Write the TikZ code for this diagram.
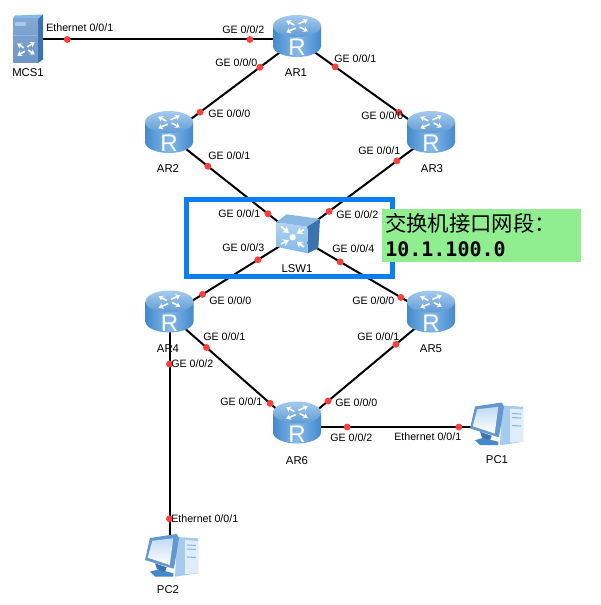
\documentclass[tikz,border=0pt]{standalone}
\usepackage{fontspec}
\setmainfont{Liberation Sans}
\newfontfamily\cjkfont{Noto Sans CJK SC}
\newfontfamily\addrfont{DejaVu Sans Mono}
\usetikzlibrary{arrows.meta}
\definecolor{huaweiblue}{HTML}{4389CC}
\definecolor{huaweimid}{HTML}{84B9EA}
\definecolor{huaweitop}{HTML}{A5CBEE}
\definecolor{huaweidark}{HTML}{3A73B0}
\definecolor{serverblue}{HTML}{6C97C8}
\definecolor{screenframe}{HTML}{6497CE}
\definecolor{framebox}{HTML}{0A7FF5}
\definecolor{notegreen}{HTML}{90EE90}
\definecolor{portred}{HTML}{F8413C}
\tikzset{
  link/.style={black,line width=1.5pt},
  portdot/.style={circle,fill=portred,draw=none,inner sep=0pt,minimum size=5.2pt},
  portlabel/.style={font=\fontsize{8}{9}\selectfont,anchor=west,inner sep=0pt},
  devlabel/.style={font=\fontsize{8.5}{10}\selectfont,anchor=center,inner sep=0pt},
  site/.style={inner sep=0pt,minimum size=0pt},
  fourarrows/.pic={
    \draw[white,line width=1.2pt,-{Stealth[length=3.5pt,width=4.5pt]}] (-2,-1) -- (-8,-5);
    \draw[white,line width=1.2pt,-{Stealth[length=3.5pt,width=4.5pt]}] (1,-2) -- (8,-6);
    \draw[white,line width=1.2pt,-{Stealth[length=3.5pt,width=4.5pt]}] (2,1) -- (8,5);
    \draw[white,line width=1.2pt,-{Stealth[length=3.5pt,width=4.5pt]}] (-1,2) -- (-8,6);
  },
  router/.pic={
    \path[left color=huaweiblue,right color=huaweiblue,middle color=huaweimid]
      (-24,-13.5) -- (-24,6.5) arc[start angle=180,end angle=0,x radius=24,y radius=11] -- (24,-13.5) -- cycle;
    \path[top color=huaweitop,bottom color=huaweiblue!85!white] (0,-13.5) ellipse[x radius=24,y radius=11];
    \pic[xscale=1.35,yscale=1.05] at (0,-13.5) {fourarrows};
    \node[text=white,inner sep=0pt,font=\fontsize{18}{18}\selectfont] (R) at (0,8) {R};
  },
  switchbox/.pic={
    \path[fill=huaweitop!70!huaweiblue] (-20,-13.7) -- (-9.3,-21.7) -- (24,-17) -- (11.7,-9.3) -- cycle;
    \path[fill=huaweidark] (11.7,-9.3) -- (24,-17) -- (22.3,12.3) -- (11.7,17.3) -- cycle;
    \path[top color=huaweitop!85!white,bottom color=huaweimid] (-20,-13.7) -- (11.7,-9.3) -- (11.7,17.3) -- (-20,10.7) -- cycle;
    \fill[white] (-3.3,1.3) circle (3.2);
    \draw[white,line width=1.4pt,-{Stealth[length=4.5pt,width=5.5pt]}] (-15,-9.5) -- (-7,-3);
    \draw[white,line width=1.4pt,-{Stealth[length=4.5pt,width=5.5pt]}] (8,-6.5) -- (0.5,-2.5);
    \draw[white,line width=1.4pt,-{Stealth[length=4.5pt,width=5.5pt]}] (8,11) -- (0.5,5.5);
    \draw[white,line width=1.4pt,-{Stealth[length=4.5pt,width=5.5pt]}] (-15,8) -- (-7,4);
  },
  serverbox/.pic={
    \path[fill=huaweimid] (-16,-20.5) -- (-14,-24) -- (14,-25) -- (9,-20.5) -- cycle;
    \path[fill=huaweidark] (9,-20.5) -- (14,-25) -- (14,20) -- (9,23.5) -- cycle;
    \path[top color=serverblue!85!white,bottom color=serverblue] (-16,-20.5) rectangle (9,23.5);
    \path[fill=huaweitop] (-14,-17) rectangle (-3,-13.5);
    \draw[huaweitop!60!serverblue,line width=.6pt] (-16,-4) -- (9,-4);
    \pic[scale=1.1] at (-3,9.5) {fourarrows};
  },
  pcbox/.pic={
    \path[fill=huaweitop] (6,-21) -- (27,-19.7) -- (27,15.3) -- (4,18.7) -- cycle;
    \path[fill=huaweitop!35!white] (14,-18) -- (27,-17) -- (27,15.3) -- (14,16) -- cycle;
    \draw[huaweimid,line width=.8pt] (16,-13) -- (25,-12.5);
    \draw[huaweimid,line width=.8pt] (16,-9) -- (25,-8.5);
    \draw[huaweimid,line width=.8pt] (16,-1) -- (25,-.5);
    \path[fill=huaweiblue] (-21,13.7) -- (-12.7,11.3) -- (2.3,15.3) -- (2.3,18.7) -- (-16,18.7) -- cycle;
    \path[fill=huaweidark] (-16,5.3) -- (-4.3,9.3) -- (-6,13.7) -- (-14,11) -- cycle;
    \path[fill=screenframe] (-21,-20) -- (5.7,-24) -- (8,-20) -- (3,10.3) -- (1.3,10.3) -- (-26,2) -- cycle;
    \path[top color=huaweitop!70!white,bottom color=white] (-18.7,-17.3) -- (2.3,-19.7) -- (-1.3,7) -- (-23.3,-.3) -- cycle;
  },
}
\begin{document}
\begin{tikzpicture}[x=0.75pt,y=-0.75pt]
\useasboundingbox (0,0) rectangle (600,605);
\fill[white] (0,0) rectangle (600,605);

\node[site] (MCS1) at (29,39.5) {};
\node[site] (AR1) at (297,39.5) {};
\node[site] (AR2) at (169,135.5) {};
\node[site] (AR3) at (431,135.5) {};
\node[site] (LSW1) at (296,236) {};
\node[site] (AR4) at (169.5,315) {};
\node[site] (AR5) at (431,315) {};
\node[site] (AR6) at (297,427) {};
\node[site] (PC1) at (497,427) {};
\node[site] (PC2) at (169.5,562) {};

% links, two port dots on each
\draw[link] (MCS1) -- node[portdot,pos=.142] (mcsA) {} node[portdot,pos=.825] (arA) {} (AR1);
\draw[link] (AR1) -- node[portdot,pos=.289] (d1) {} node[portdot,pos=.758] (d2) {} (AR2);
\draw[link] (AR1) -- node[portdot,pos=.284] (d3) {} node[portdot,pos=.761] (d4) {} (AR3);
\draw[link] (AR2) -- node[portdot,pos=.305] (d5) {} node[portdot,pos=.78] (d6) {} (LSW1);
\draw[link] (AR3) -- node[portdot,pos=.252] (d7) {} node[portdot,pos=.756] (d8) {} (LSW1);
\draw[link] (AR4) -- node[portdot,pos=.26] (d9) {} node[portdot,pos=.70] (d10) {} (LSW1);
\draw[link] (AR5) -- node[portdot,pos=.222] (d11) {} node[portdot,pos=.674] (d12) {} (LSW1);
\draw[link] (AR4) -- node[portdot,pos=.289] (d13) {} node[portdot,pos=.79] (d14) {} (AR6);
\draw[link] (AR5) -- node[portdot,pos=.261] (d15) {} node[portdot,pos=.769] (d16) {} (AR6);
\draw[link] (AR6) -- node[portdot,pos=.25] (d17) {} node[portdot,pos=.81] (d18) {} (PC1);
\draw[link] (AR4) -- node[portdot,pos=.198] (d19) {} node[portdot,pos=.826] (d20) {} (PC2);

\pic (mcsicon) at (MCS1) {serverbox};
\pic (aricona) at (AR1) {router};
\pic (ariconb) at (AR2) {router};
\pic (ariconc) at (AR3) {router};
\pic (aricond) at (AR4) {router};
\pic (aricone) at (AR5) {router};
\pic (ariconf) at (297,426) {router};
\pic (lswicon) at (LSW1) {switchbox};
\pic (pcicona) at (496,426.5) {pcbox};
\pic (piconb) at (171,558) {pcbox};

\node[devlabel] (nMCS1) at (28,73) {MCS1};
\node[devlabel] (nAR1) at (296,73) {AR1};
\node[devlabel] (nAR2) at (168,169) {AR2};
\node[devlabel] (nAR3) at (432,169) {AR3};
\node[devlabel] (nLSW1) at (297,269) {LSW1};
\node[devlabel] (nAR4) at (168,349) {AR4};
\node[devlabel] (nAR5) at (431,349) {AR5};
\node[devlabel] (nAR6) at (297,461) {AR6};
\node[devlabel] (nPC1) at (497,460) {PC1};
\node[devlabel] (nPC2) at (168,590) {PC2};

\node[portlabel] (l1) at (46,28) {Ethernet 0/0/1};
\node[portlabel] (l2) at (222,30) {GE 0/0/2};
\node[portlabel] (l3) at (215,63) {GE 0/0/0};
\node[portlabel] (l4) at (334,59) {GE 0/0/1};
\node[portlabel] (l5) at (208,114) {GE 0/0/0};
\node[portlabel] (l6) at (361,116) {GE 0/0/0};
\node[portlabel] (l7) at (208,156) {GE 0/0/1};
\node[portlabel] (l8) at (358,151) {GE 0/0/1};
\node[portlabel] (l9) at (218,214) {GE 0/0/1};
\node[portlabel] (l10) at (336,215) {GE 0/0/2};
\node[portlabel] (l11) at (222,248) {GE 0/0/3};
\node[portlabel] (l12) at (332,249) {GE 0/0/4};
\node[portlabel] (l13) at (209,301) {GE 0/0/0};
\node[portlabel] (l14) at (352,301) {GE 0/0/0};
\node[portlabel] (l15) at (203,337) {GE 0/0/1};
\node[portlabel] (l16) at (357,337) {GE 0/0/1};
\node[portlabel] (l17) at (171,364) {GE 0/0/2};
\node[portlabel] (l18) at (220,402) {GE 0/0/1};
\node[portlabel] (l19) at (335,403) {GE 0/0/0};
\node[portlabel] (l20) at (330,438) {GE 0/0/2};
\node[portlabel] (l21) at (394,437) {Ethernet 0/0/1};
\node[portlabel] (l22) at (171,519) {Ethernet 0/0/1};

% switch highlight and the note over its right edge
\draw[framebox,line width=3.75pt] (186.5,199.5) rectangle (392.5,276.5);
\node[fill=notegreen,anchor=north west,align=left,inner sep=0pt,inner xsep=2.25pt,
  text width=144.75pt,minimum height=40pt,font=\fontsize{16}{18.75}\selectfont] (note) at (382,208.5)
  {{\cjkfont 交换机接口网段：}\\{\addrfont\bfseries\fontsize{15}{18.75}\selectfont 10.1.100.0}};
\end{tikzpicture}
\end{document}
